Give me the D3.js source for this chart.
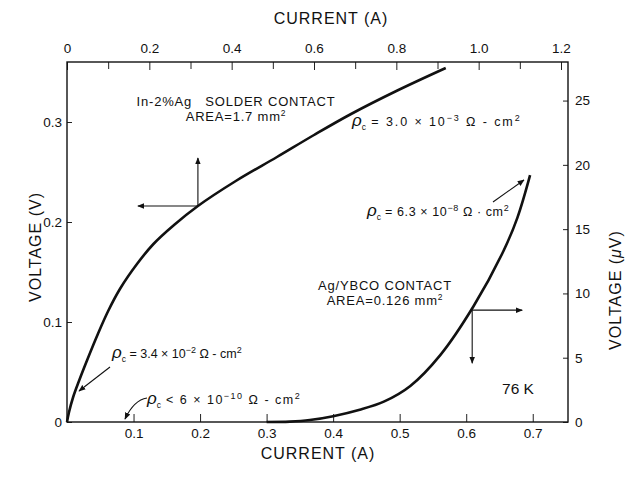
<!DOCTYPE html>
<html>
<head>
<meta charset="utf-8">
<script src="https://cdn.jsdelivr.net/npm/d3@7/dist/d3.min.js"></script>
<style>
  body { margin: 0; background: #fff; }
  text { font-family: "Liberation Sans", Arial, sans-serif; fill: #111; }
</style>
</head>
<body>
<script>
// chart values
var solderCurrent = [0, 0.005, 0.015, 0.03, 0.05, 0.075, 0.10, 0.13, 0.17, 0.21, 0.26, 0.318, 0.41, 0.51, 0.60, 0.69, 0.80, 0.92];
var solderVoltage = [0, 0.010, 0.025, 0.042, 0.063, 0.088, 0.111, 0.134, 0.158, 0.178, 0.197, 0.216, 0.241, 0.265, 0.287, 0.308, 0.331, 0.354];

var ybcoCurrent = [0.30, 0.335, 0.365, 0.40, 0.44, 0.477, 0.516, 0.561, 0.611, 0.656, 0.677, 0.696];
var ybcoVoltage = [0, 0.03, 0.15, 0.45, 0.95, 1.6, 2.8, 5.2, 9.0, 13.3, 15.9, 19.2];

var topTicks    = [0, 0.2, 0.4, 0.6, 0.8, 1.0, 1.2];
var topMinor    = [0.1, 0.3, 0.5, 0.7, 0.9, 1.1];
var bottomTicks = [0.1, 0.2, 0.3, 0.4, 0.5, 0.6, 0.7];
var leftTicks   = [0, 0.1, 0.2, 0.3];
var rightTicks  = [0, 5, 10, 15, 20, 25];

// frame
var w = 625, h = 480;
var x0 = 67, x1 = 568, y0 = 62, y1 = 422;

var xTop = d3.scaleLinear().domain([0, 1.217]).range([x0, x1]);
var xBot = d3.scaleLinear().domain([0, 0.753]).range([x0, x1]);
var yL   = d3.scaleLinear().domain([0, 0.36]).range([y1, y0]);
var yR   = d3.scaleLinear().domain([0, 28.0]).range([y1, y0]);

var svg = d3.select("body").append("svg")
    .attr("width", w)
    .attr("height", h);

var defs = svg.append("defs");
defs.append("marker")
    .attr("id", "head")
    .attr("viewBox", "0 0 10 10")
    .attr("refX", 9).attr("refY", 5)
    .attr("markerWidth", 7).attr("markerHeight", 7)
    .attr("markerUnits", "userSpaceOnUse")
    .attr("orient", "auto")
  .append("path")
    .attr("d", "M0,1 L10,5 L0,9 Z")
    .attr("fill", "#111");

function fmt1(d) { return d === 0 ? "0" : d.toFixed(1); }

// axes
function styleAxis(g) {
  g.select(".domain").remove();
  g.selectAll("line").attr("stroke", "#222").attr("stroke-width", 1);
  g.selectAll("text").attr("font-size", 13.5).attr("fill", "#111")
    .attr("font-family", "Liberation Sans, Arial, sans-serif");
}

svg.append("g").attr("transform", "translate(0," + y0 + ")")
  .call(d3.axisTop(xTop).tickValues(topTicks).tickSize(-8).tickPadding(9).tickFormat(fmt1))
  .call(styleAxis);
svg.append("g").attr("transform", "translate(0," + y0 + ")")
  .call(d3.axisTop(xTop).tickValues(topMinor).tickSize(-7).tickFormat(""))
  .call(styleAxis);
svg.append("g").attr("transform", "translate(0," + y1 + ")")
  .call(d3.axisBottom(xBot).tickValues(bottomTicks).tickSize(-8).tickPadding(6).tickFormat(fmt1))
  .call(styleAxis);
svg.append("g").attr("transform", "translate(" + x0 + ",0)")
  .call(d3.axisLeft(yL).tickValues(leftTicks).tickSize(-5).tickPadding(5).tickFormat(fmt1))
  .call(styleAxis);
svg.append("g").attr("transform", "translate(" + x1 + ",0)")
  .call(d3.axisRight(yR).tickValues(rightTicks).tickSize(-5).tickPadding(7))
  .call(styleAxis);

svg.append("rect")
    .attr("x", x0).attr("y", y0)
    .attr("width", x1 - x0).attr("height", y1 - y0)
    .attr("fill", "none").attr("stroke", "#111").attr("stroke-width", 1.4);

// axis titles
function title(txt, x, y, rot) {
  svg.append("text")
    .attr("transform", "translate(" + x + "," + y + ")" + (rot ? " rotate(" + rot + ")" : ""))
    .attr("text-anchor", "middle")
    .attr("font-size", 16)
    .attr("letter-spacing", 1)
    .text(txt);
}
title("CURRENT (A)", 331, 24);
title("CURRENT (A)", 318, 459);
title("VOLTAGE (V)", 41, 247, -90);
svg.append("text")
    .attr("transform", "translate(621,290) rotate(-90)")
    .attr("text-anchor", "middle")
    .attr("font-size", 16)
    .attr("letter-spacing", 1)
    .call(function(t) {
      t.append("tspan").text("VOLTAGE (");
      t.append("tspan").attr("font-style", "italic").text("\u03bc");
      t.append("tspan").text("V)");
    });

// curves
var solder = solderCurrent.map(function(d, i) { return [d, solderVoltage[i]]; });
var ybco = ybcoCurrent.map(function(d, i) { return [d, ybcoVoltage[i]]; });

svg.append("path")
    .datum(solder)
    .attr("fill", "none").attr("stroke", "#111").attr("stroke-width", 2.6)
    .attr("stroke-linejoin", "round")
    .attr("d", d3.line().x(function(d) { return xTop(d[0]); }).y(function(d) { return yL(d[1]); })
      .curve(d3.curveCatmullRom.alpha(0.5)));

svg.append("path")
    .datum(ybco)
    .attr("fill", "none").attr("stroke", "#111").attr("stroke-width", 2.6)
    .attr("stroke-linejoin", "round")
    .attr("d", d3.line().x(function(d) { return xBot(d[0]); }).y(function(d) { return yR(d[1]); })
      .curve(d3.curveCatmullRom.alpha(0.5)));

// axis pointers on each curve
function arrow(xa, ya, xb, yb) {
  svg.append("line")
    .attr("x1", xa).attr("y1", ya).attr("x2", xb).attr("y2", yb)
    .attr("stroke", "#111").attr("stroke-width", 1.1)
    .attr("marker-end", "url(#head)");
}
var sx = xTop(0.318), sy = yL(0.216);
arrow(sx, sy, sx, sy - 48);
arrow(sx, sy, sx - 60, sy);
var bx = xBot(0.609), by = yR(8.7);
arrow(bx, by, bx + 50, by);
arrow(bx, by, bx, by + 53);

// labels
function block(lines, x, y, size) {
  lines.forEach(function(parts, i) {
    var t = svg.append("text")
      .attr("x", x).attr("y", y + i * 15)
      .attr("text-anchor", "middle")
      .attr("font-size", size)
      .attr("letter-spacing", 0.8);
    parts.forEach(function(p) {
      var s = t.append("tspan").text(p.t);
      if (p.sup) s.attr("font-size", size * 0.65).attr("dy", -5);
    });
  });
}
block([[{t: "In-2%Ag\u00a0\u00a0 SOLDER CONTACT"}],
       [{t: "AREA=1.7 mm"}, {t: "2", sup: true}]], 236, 106, 13);
block([[{t: "Ag/YBCO CONTACT"}],
       [{t: "AREA=0.126 mm"}, {t: "2", sup: true}]], 385, 290, 13);

svg.append("text")
    .attr("x", 518).attr("y", 394)
    .attr("text-anchor", "middle")
    .attr("font-size", 15.5)
    .text("76 K");

// contact resistivity notes
function rho(x, y, rel, value, exp, sep, spacing) {
  var t = svg.append("text").attr("x", x).attr("y", y).attr("font-size", 12.5);
  t.append("tspan").attr("font-size", 17).attr("font-style", "italic").text("\u03c1");
  t.append("tspan").attr("font-size", 8.5).attr("dy", 4).text("c");
  var rest = [
    t.append("tspan").attr("dy", -4).text(" " + rel + " " + value + " \u00d7 10"),
    t.append("tspan").attr("font-size", 9).attr("dy", -5).text(exp),
    t.append("tspan").attr("dy", 5).text(" \u03a9 " + sep + " cm"),
    t.append("tspan").attr("font-size", 9).attr("dy", -5).text("2")
  ];
  rest.forEach(function(s) { s.attr("letter-spacing", spacing); });
}
rho(352, 126, "=", "3.0", "\u22123", "-", 1.9);
rho(367, 216, "=", "6.3", "\u22128", "\u00b7", 0.6);
rho(112, 358, "=", "3.4", "\u22122", "-", 0);
rho(147, 404, "<", "6", "\u221210", "-", 1.5);

// leaders to the curves
arrow(493, 202, 524, 180);
arrow(110, 367, 79, 391);
svg.append("path")
    .attr("d", "M147,398 Q134,400 125,419")
    .attr("fill", "none").attr("stroke", "#111").attr("stroke-width", 1.1)
    .attr("marker-end", "url(#head)");
</script>
</body>
</html>
